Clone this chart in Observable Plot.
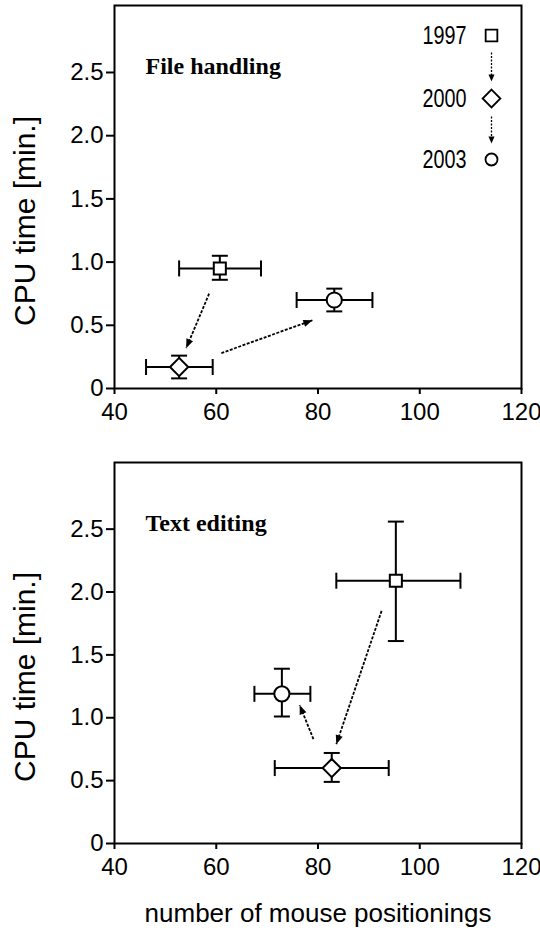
<!DOCTYPE html>
<html><head><meta charset="utf-8">
<script src="https://cdn.jsdelivr.net/npm/d3@7"></script>
<script src="https://cdn.jsdelivr.net/npm/@observablehq/plot@0.6"></script>
<style>
body{margin:0;background:#fff;width:540px;}
#c svg{display:block;}
</style></head><body><div id="c"></div>
<script>
// ---- data ----
const years = ["1997", "2000", "2003"];
const xTicks = [40, 60, 80, 100, 120];
const yTicks = [0, 0.5, 1, 1.5, 2, 2.5];
const yTickLabels = ["0", "0.5", "1.0", "1.5", "2.0", "2.5"];

// File handling
const fileX   = [60.7, 52.7, 83.2];
const fileXLo = [52.7, 46.2, 75.8];
const fileXHi = [68.8, 59.3, 90.7];
const fileY   = [0.95, 0.17, 0.70];
const fileYLo = [0.86, 0.08, 0.61];
const fileYHi = [1.05, 0.26, 0.79];
const fileArrowX1 = [58.6, 61.0];
const fileArrowY1 = [0.75, 0.28];
const fileArrowX2 = [54.1, 78.9];
const fileArrowY2 = [0.32, 0.54];

// Text editing
const textX   = [95.3, 82.7, 72.9];
const textXLo = [83.6, 71.5, 67.5];
const textXHi = [108.0, 93.9, 78.5];
const textY   = [2.09, 0.60, 1.19];
const textYLo = [1.61, 0.49, 1.01];
const textYHi = [2.56, 0.72, 1.39];
const textArrowX1 = [92.5, 79.1];
const textArrowY1 = [1.85, 0.83];
const textArrowX2 = [83.6, 76.4];
const textArrowY2 = [0.79, 1.10];

// ---- layout / style ----
const W = 540, ML = 114, MR = 19;
const X_DOMAIN = [40, 120], Y_DOMAIN = [0, 3.03];
const SANS = "'Liberation Sans', Arial, Helvetica, sans-serif";
const SERIF = "'Liberation Serif', 'Times New Roman', serif";
const symbolStyle = {
  "1997": {symbol: "square", r: 6.8, lr: 6.6},
  "2000": {symbol: "diamond2", r: 8.2, lr: 8.0},
  "2003": {symbol: "circle", r: 7.6, lr: 6.0}
};
const vbar = {draw(ctx, size) { const r = Math.sqrt(size / Math.PI); ctx.moveTo(0, -r); ctx.lineTo(0, r); }};
const hbar = {draw(ctx, size) { const r = Math.sqrt(size / Math.PI); ctx.moveTo(-r, 0); ctx.lineTo(r, 0); }};
const head = {draw(ctx) { ctx.moveTo(0, 0); ctx.lineTo(-9, -3.6); ctx.lineTo(-9, 3.6); ctx.closePath(); }};
const headSmall = {draw(ctx) { ctx.moveTo(0, 0); ctx.lineTo(-7, -3); ctx.lineTo(-7, 3); ctx.closePath(); }};

function panel(o) {
  const rows = years.map((yr, i) => ({year: yr, x: o.x[i], xlo: o.xlo[i], xhi: o.xhi[i], y: o.y[i], ylo: o.ylo[i], yhi: o.yhi[i]}));
  const kx = (W - ML - MR) / (X_DOMAIN[1] - X_DOMAIN[0]);
  const ky = (o.height - o.mt - o.mb) / (Y_DOMAIN[1] - Y_DOMAIN[0]);
  const arrows = o.ax1.map((v, i) => {
    const a = {x1: v, y1: o.ay1[i], x2: o.ax2[i], y2: o.ay2[i]};
    a.angle = Math.atan2(-(a.y2 - a.y1) * ky, (a.x2 - a.x1) * kx) * 180 / Math.PI;
    return a;
  });
  const marks = [
    Plot.frame({stroke: "black", strokeWidth: 2}),
    Plot.axisX({ticks: xTicks, tickSize: 6, tickPadding: 8, label: null, strokeWidth: 2, fill: "black"}),
    Plot.axisY({ticks: yTicks, tickFormat: d => yTickLabels[yTicks.indexOf(d)], tickSize: 8, tickPadding: 3, label: null, strokeWidth: 2, fill: "black"}),
    Plot.link(arrows, {x1: "x1", y1: "y1", x2: "x2", y2: "y2", stroke: "black", strokeWidth: 1.8, strokeDasharray: "3,1.5"}),
    Plot.dot(arrows, {x: "x2", y: "y2", symbol: head, rotate: "angle", fill: "black", stroke: "none"}),
    Plot.link(rows, {x1: "xlo", x2: "xhi", y1: "y", y2: "y", stroke: "black", strokeWidth: 2}),
    Plot.link(rows, {x1: "x", x2: "x", y1: "ylo", y2: "yhi", stroke: "black", strokeWidth: 2}),
    Plot.dot(rows, {x: "xlo", y: "y", symbol: vbar, r: 8, fill: "none", stroke: "black", strokeWidth: 2}),
    Plot.dot(rows, {x: "xhi", y: "y", symbol: vbar, r: 8, fill: "none", stroke: "black", strokeWidth: 2}),
    Plot.dot(rows, {x: "x", y: "ylo", symbol: hbar, r: 8, fill: "none", stroke: "black", strokeWidth: 2}),
    Plot.dot(rows, {x: "x", y: "yhi", symbol: hbar, r: 8, fill: "none", stroke: "black", strokeWidth: 2}),
    ...years.map(yr => Plot.dot(rows.filter(d => d.year === yr), {x: "x", y: "y", symbol: symbolStyle[yr].symbol, r: symbolStyle[yr].r, fill: "white", stroke: "black", strokeWidth: 2})),
    Plot.text([o.title], {text: d => d, frameAnchor: "top-left", dx: 31, dy: 61, textAnchor: "start", lineAnchor: "middle", fontFamily: SERIF, fontWeight: "bold", fontSize: 24, fill: "black"}),
    Plot.text(["CPU time [min.]"], {text: d => d, frameAnchor: "left", rotate: -90, dx: -89, dy: 24, textAnchor: "middle", lineAnchor: "middle", fontFamily: SANS, fontSize: 30, fill: "black"})
  ];
  if (o.xtitle) {
    marks.push(Plot.text([o.xtitle], {text: d => d, frameAnchor: "bottom", dy: 70, lineAnchor: "middle", fontFamily: SANS, fontSize: 26, fill: "black"}));
  }
  if (o.legend) {
    const ys = [30, 93, 154];
    years.forEach((yr, i) => {
      marks.push(Plot.text([yr], {text: d => d, frameAnchor: "top-right", dx: -55, dy: ys[i], textAnchor: "end", lineAnchor: "middle", fontFamily: SANS, fontSize: 26, fill: "black"}));
      marks.push(Plot.dot([yr], {frameAnchor: "top-right", dx: -30, dy: ys[i], symbol: symbolStyle[yr].symbol, r: symbolStyle[yr].lr, fill: "white", stroke: "black", strokeWidth: 1.8}));
    });
    [[59, 76], [123, 138]].forEach(([stem, tip]) => {
      marks.push(Plot.dot([0], {frameAnchor: "top-right", dx: -30, dy: stem, symbol: vbar, r: 12, fill: "none", stroke: "black", strokeWidth: 1.3, strokeDasharray: "2,1.5"}));
      marks.push(Plot.dot([0], {frameAnchor: "top-right", dx: -30, dy: tip, symbol: headSmall, rotate: 90, fill: "black", stroke: "none"}));
    });
  }
  const svg = Plot.plot({
    width: W, height: o.height,
    marginLeft: ML, marginRight: MR, marginTop: o.mt, marginBottom: o.mb,
    x: {domain: X_DOMAIN},
    y: {domain: Y_DOMAIN},
    style: {fontFamily: SANS, fontSize: "24px", color: "black", background: "white", overflow: "visible"},
    marks
  });
  // condensed legend digits, as in the original figure
  d3.select(svg).selectAll("text")
    .filter(function() { return years.includes(this.textContent); })
    .attr("textLength", 44).attr("lengthAdjust", "spacingAndGlyphs");
  return svg;
}

const c = document.getElementById("c");
c.append(panel({
  x: fileX, xlo: fileXLo, xhi: fileXHi, y: fileY, ylo: fileYLo, yhi: fileYHi,
  ax1: fileArrowX1, ay1: fileArrowY1, ax2: fileArrowX2, ay2: fileArrowY2,
  title: "File handling", legend: true, height: 440, mt: 5, mb: 52
}));
c.append(panel({
  x: textX, xlo: textXLo, xhi: textXHi, y: textY, ylo: textYLo, yhi: textYHi,
  ax1: textArrowX1, ay1: textArrowY1, ax2: textArrowX2, ay2: textArrowY2,
  title: "Text editing", xtitle: "number of mouse positionings", height: 490, mt: 22, mb: 87
}));
</script></body></html>
